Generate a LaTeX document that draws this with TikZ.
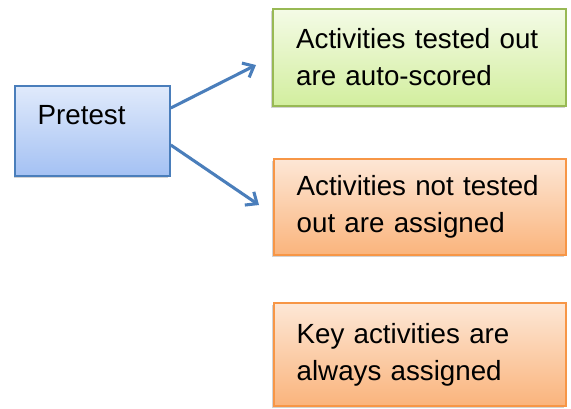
\documentclass[tikz,border=0pt]{standalone}
\usepackage{fontspec}
\setmainfont{Liberation Sans}
\usetikzlibrary{arrows.meta}
\usetikzlibrary{shadows}

\definecolor{boxblue}{HTML}{4A7EBB}
\definecolor{boxgreen}{HTML}{98B954}
\definecolor{boxorange}{HTML}{F79646}
\definecolor{bluetop}{HTML}{E0EAFB}
\definecolor{bluebottom}{HTML}{A4C1F3}
\definecolor{greentop}{HTML}{F4FBE6}
\definecolor{greenbottom}{HTML}{D2EE9E}
\definecolor{orangetop}{HTML}{FDE7D6}
\definecolor{orangebottom}{HTML}{FAB47C}

\begin{document}
\begin{tikzpicture}[x=0.75pt, y=-0.75pt,
        box_style/.style={rectangle, line width=1.4pt, text width=185pt, align=left,
                font=\fontsize{20.8}{27.75}\selectfont, inner xsep=16pt,
                drop shadow={shadow xshift=-1.2pt, shadow yshift=-1.5pt, opacity=0.35}},
        pretest_style/.style={box_style, draw=boxblue, top color=bluetop, bottom color=bluebottom,
                minimum width=116pt, minimum height=67.5pt, text width={}},
        green_style/.style={box_style, draw=boxgreen, top color=greentop, bottom color=greenbottom,
                minimum width=220pt, minimum height=72.75pt},
        orange_style/.style={box_style, draw=boxorange, top color=orangetop, bottom color=orangebottom,
                minimum width=219pt},
        edge_style/.style={draw=boxblue, line width=2.3pt, -{Straight Barb[length=7pt, width=12pt]}}]

        \useasboundingbox (0,0) rectangle (571,408);

        \node [pretest_style](pretest) at (92.5,131) {};

        \node [anchor=base west, font=\fontsize{20.8}{24}\selectfont](pretest_text) at (33,124) {Pretest};

        \node [green_style](tested) at (419.5,57.5) {Activities tested out\\are auto-scored};

        \node [orange_style, minimum height=72pt](untested) at (420,207) {Activities not tested\\out are assigned};

        \node [orange_style, minimum height=77pt](key) at (420,354.5) {Key activities are\\always assigned};

        \coordinate (tip_tested) at (256,65);

        \coordinate (tip_untested) at (259,205);

        \draw [edge_style] (pretest.east |- 0,108) -- (tip_tested);

        \draw [edge_style] (pretest.east |- 0,145) -- (tip_untested);

        \end{tikzpicture}
\end{document}
